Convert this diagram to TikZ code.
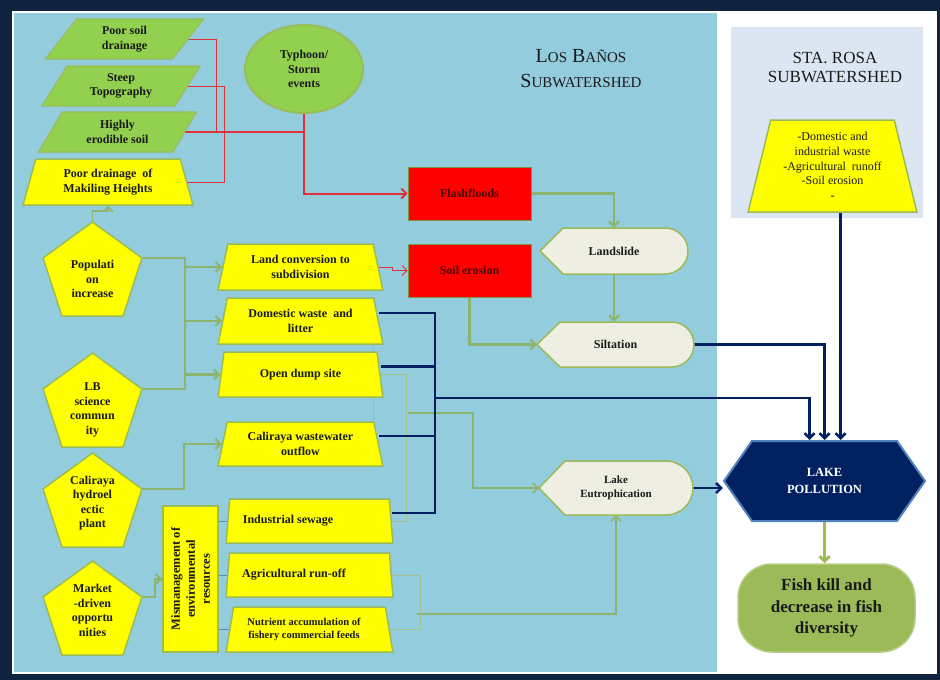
\documentclass[tikz,border=0pt]{standalone}
\usepackage{fontspec}
\setmainfont{Liberation Serif}
\usetikzlibrary{shapes.geometric,shapes.symbols,arrows.meta,calc}
\definecolor{framec}{HTML}{10243F}
\definecolor{skyb}{HTML}{93CDDD}
\definecolor{leaf}{HTML}{92D050}
\definecolor{olive}{HTML}{9BBB59}
\definecolor{ybox}{HTML}{FFFF00}
\definecolor{beigec}{HTML}{EEEEE2}
\definecolor{navyc}{HTML}{002060}
\definecolor{hexb}{HTML}{4F81BD}
\definecolor{redc}{HTML}{FF0000}
\definecolor{redline}{HTML}{E0303A}
\definecolor{gline}{HTML}{8DB46F}
\definecolor{gthinc}{HTML}{A3C08A}
\definecolor{bthinc}{HTML}{5B8DB8}
\definecolor{srbg}{HTML}{DCE6F2}
\definecolor{txtc}{HTML}{1A1A1A}
\definecolor{darkred}{HTML}{4A0000}
\pgfdeclarelayer{bg}
\pgfdeclarelayer{edges}
\pgfsetlayers{bg,edges,main}
\begin{document}
\begin{tikzpicture}[x=1pt,y=-1pt,
 base/.style={inner sep=0pt, align=center, text=txtc, font=\bfseries\fontsize{12}{14.5}\selectfont},
 para/.style={base, trapezium, trapezium left angle=60, trapezium right angle=120, trapezium stretches=true, fill=leaf, draw=olive, line width=1.2pt, minimum width=159, minimum height=40},
 ytrap/.style={base, trapezium, trapezium stretches=true, trapezium angle=74, fill=ybox, draw=olive, line width=1.5pt, minimum width=165, minimum height=46},
 pent/.style={base, regular polygon, regular polygon sides=5, minimum size=104, fill=ybox, draw=olive, line width=1.5pt},
 redbox/.style={base, rectangle, fill=redc, draw=olive!80!black, line width=0.6pt, minimum width=123, minimum height=53, text=darkred, font=\bfseries\fontsize{12}{14}\selectfont},
 beigeshape/.style={fill=beigec, draw=olive, line width=1.5pt},
 btxt/.style={base, rectangle},
 tipv/.style={-{Straight Barb[length=5pt,width=10pt]}},
 redthin/.style={draw=redline, line width=0.9pt},
 redthick/.style={draw=redline, line width=2pt},
 gconn/.style={draw=gline, line width=2.2pt},
 gmed/.style={draw=gline, line width=1.5pt},
 gthin/.style={draw=gthinc, line width=0.9pt},
 navyl/.style={draw=navyc, line width=2.5pt},
 bthin/.style={draw=bthinc, line width=1pt}
]
\useasboundingbox (0,0) rectangle (940,680);
\begin{pgfonlayer}{bg}
\fill[framec] (0,0) rectangle (940,680);
\fill[white] (12,11) rectangle (937,674);
\fill[skyb] (14,13) rectangle (717,672);
\fill[srbg] (731,27) rectangle (923,218);
\end{pgfonlayer}

% titles
\node[base, font=\fontsize{20}{25}\selectfont] (lbt) at (581,69) {L{\fontsize{15}{25}\selectfont OS} B{\fontsize{15}{25}\selectfont AÑOS}\\S{\fontsize{15}{25}\selectfont UBWATERSHED}};
\node[base, font=\fontsize{17}{19}\selectfont] (srt) at (835,68) {STA. ROSA\\SUBWATERSHED};

% left column
\node[para] (psd) at (124.5,39) {Poor soil\\drainage};
\node[para] (steep) at (121,86) {Steep\\Topography};
\node[para] (highly) at (117.5,132) {Highly\\erodible soil};
\node[ytrap, trapezium angle=73, minimum width=170] (pdm) at (108,182) {Poor drainage\ \ of\\Makiling Heights};
\node[base, ellipse, fill=leaf, draw=olive, line width=2pt, minimum width=118, minimum height=88] (typh) at (304,69) {Typhoon/\\Storm\\events};

\node[pent, label={[base,yshift=-5pt]center:Populati\\on\\increase}] (pop) at (92.5,274) {};
\node[pent, label={[base,yshift=-5pt]center:LB\\science\\commun\\ity}] (lb) at (92.5,405) {};
\node[pent, label={[base,yshift=2pt]center:Caliraya\\hydroel\\ectic\\plant}] (cal) at (92.5,505) {};
\node[pent, label={[base,yshift=2.5pt]center:Market\\-driven\\opportu\\nities}] (mkt) at (92.5,613) {};

% middle column
\node[ytrap] (land) at (300.5,267) {Land conversion to\\subdivision};
\node[ytrap] (dom) at (300.5,321) {Domestic waste\ \ and\\litter};
\node[ytrap, minimum height=45] (dump) at (300.5,374.5) {Open dump site};
\node[ytrap, minimum height=44] (calw) at (300.5,444) {Caliraya wastewater\\outflow};
\node[ytrap, trapezium angle=75, minimum width=167, minimum height=44] (ind) at (309.5,521) {Industrial sewage\hspace*{43pt}};
\node[ytrap, trapezium angle=75, minimum width=167, minimum height=44] (agr) at (309.5,575) {Agricultural run-off\hspace*{31pt}};
\node[ytrap, trapezium angle=75, minimum width=167, minimum height=45, font=\bfseries\fontsize{10.5}{13}\selectfont] (nut) at (309.5,629.5) {Nutrient accumulation of\hspace*{11pt}\\fishery commercial feeds\hspace*{11pt}};
\node[base, rectangle, rotate=90, minimum width=146, minimum height=55, fill=ybox, draw=olive, line width=1.5pt, font=\bfseries\fontsize{12.5}{15}\selectfont] (mis) at (190.5,579) {Mismanagement of\\environmental\\resources};

% red boxes
\node[redbox] (flash) at (469.5,193.5) {Flashfloods};
\node[redbox] (soil) at (469.5,270.5) {Soil erosion};

% beige nodes
\path[beigeshape] (540,251) -- (563,228) -- (665,228) arc[start angle=90,end angle=-90,radius=23pt] -- (563,274) -- cycle;
\node[btxt, minimum width=148, minimum height=46] (ls) at (614,251) {Landslide};
\path[beigeshape] (537,344.5) -- (560,322) -- (671.5,322) arc[start angle=90,end angle=-90,radius=22.5pt] -- (560,367) -- cycle;
\node[btxt, minimum width=157, minimum height=45] (silt) at (615.5,344.5) {Siltation};
\path[beigeshape] (539,488) -- (565,461) -- (666,461) arc[start angle=90,end angle=-90,radius=27pt] -- (565,515) -- cycle;
\node[btxt, minimum width=154, minimum height=54, font=\bfseries\fontsize{11}{14}\selectfont] (eut) at (616,488) {Lake\\Eutrophication};

% right side
\node[ytrap, trapezium angle=75, minimum width=169, minimum height=92, font=\fontsize{12}{14.7}\selectfont] (sr) at (832.5,166) {-Domestic and\\industrial waste\\-Agricultural\ \ runoff\\-Soil erosion\\-};
\node[base, signal, signal to=west and east, signal pointer angle=110, minimum width=201, minimum height=80, fill=navyc, draw=hexb, line width=2pt, text=white, font=\bfseries\fontsize{12.5}{17}\selectfont] (pol) at (824.5,481) {LAKE\\POLLUTION};
\node[base, rectangle, rounded corners=34pt, minimum width=177, minimum height=88, fill=olive, draw=olive!75!white, line width=1.5pt, font=\bfseries\fontsize{17}{21.5}\selectfont] (fish) at (826.5,608) {Fish kill and\\decrease in fish\\diversity};

% junction coordinates
\coordinate (tA) at (185,0);
\coordinate (tB) at (184,0);
\coordinate (tC) at (435,0);
\coordinate (tD) at (435,398);
\coordinate (tE) at (406,0);
\coordinate (tF) at (473,0);
\coordinate (tG) at (420,0);
\coordinate (g1) at (373,344);
\coordinate (g2) at (373,440);
\coordinate (g3) at (408,413);
\coordinate (g4) at (417,614);

\begin{pgfonlayer}{edges}
% red
\draw[redthin] (psd.east) -- ++(28,0) |- (highly.east);
\draw[redthin] (steep.east) -- ++(36,0) |- (pdm.east);
\draw[redthick] (highly.east) -- (highly.east -| typh.south);
\draw[redthick, tipv] (typh.south) |- (flash.west);
\draw[redthin, tipv] (land.east) -- ++(14,0) |- (soil.west);
% green
\draw[gconn, tipv] (flash.east) -| (ls.north);
\draw[gconn, tipv] (ls.south) -- (ls.south |- silt.north);
\draw[gconn, tipv] (soil.south) |- (silt.west);
\draw[gconn] (pop.corner 5) -| (tA |- lb.corner 5) -- (lb.corner 5);
\draw[gconn, tipv] (tA |- land.west) -- (land.west);
\draw[gconn, tipv] (tA |- dom.west) -- (dom.west);
\draw[gconn, tipv] (tA |- dump.west) -- (dump.west);
\draw[gconn, tipv] (cal.corner 5) -| (tB |- calw.west) -- (calw.west);
\draw[gconn, tipv] (mkt.corner 5) -- ++(12,0) |- (mis.north);
\draw[gmed, tipv] (pop.corner 1) -- ++(0,-10) -| (pdm.south);
\draw[draw=olive, line width=3pt, tipv] (pol.south) -- (pol.south |- fish.north);
% thin blue
\draw[bthin] (mis.south |- ind.west) -- (ind.west);
\draw[bthin] (mis.south |- agr.west) -- (agr.west);
\draw[bthin] (mis.south |- nut.west) -- (nut.west);
% thin green
\draw[gthin] (g1) -- (g2);
\draw[gthin] (dump.east) -| (tE |- ind.east) -- (ind.east);
\draw[gmed, tipv] (g3) -| (tF |- eut.west) -- (eut.west);
\draw[gthin] (agr.east) -| (tG |- nut.east) -- (nut.east);
\draw[gmed, tipv] (g4) -| (eut.south);
% navy
\draw[navyl] ([yshift=8pt]dom.east) -| ([yshift=8pt]ind.east -| tC) -- ([yshift=8pt]ind.east);
\draw[navyl] ([yshift=8pt]dump.east) -- ([yshift=8pt]dump.east -| tC);
\draw[navyl] ([yshift=8pt]calw.east) -- ([yshift=8pt]calw.east -| tC);
\draw[navyl, tipv] (tD) -| ([xshift=-15pt]pol.north);
\draw[navyl, tipv] (silt.east) -| (pol.north);
\draw[navyl, tipv] ([xshift=16pt]pol.north |- sr.south) -- ([xshift=16pt]pol.north);
\draw[navyl, tipv] (eut.east) -- (eut.east -| pol.west);
\end{pgfonlayer}
\end{tikzpicture}
\end{document}
